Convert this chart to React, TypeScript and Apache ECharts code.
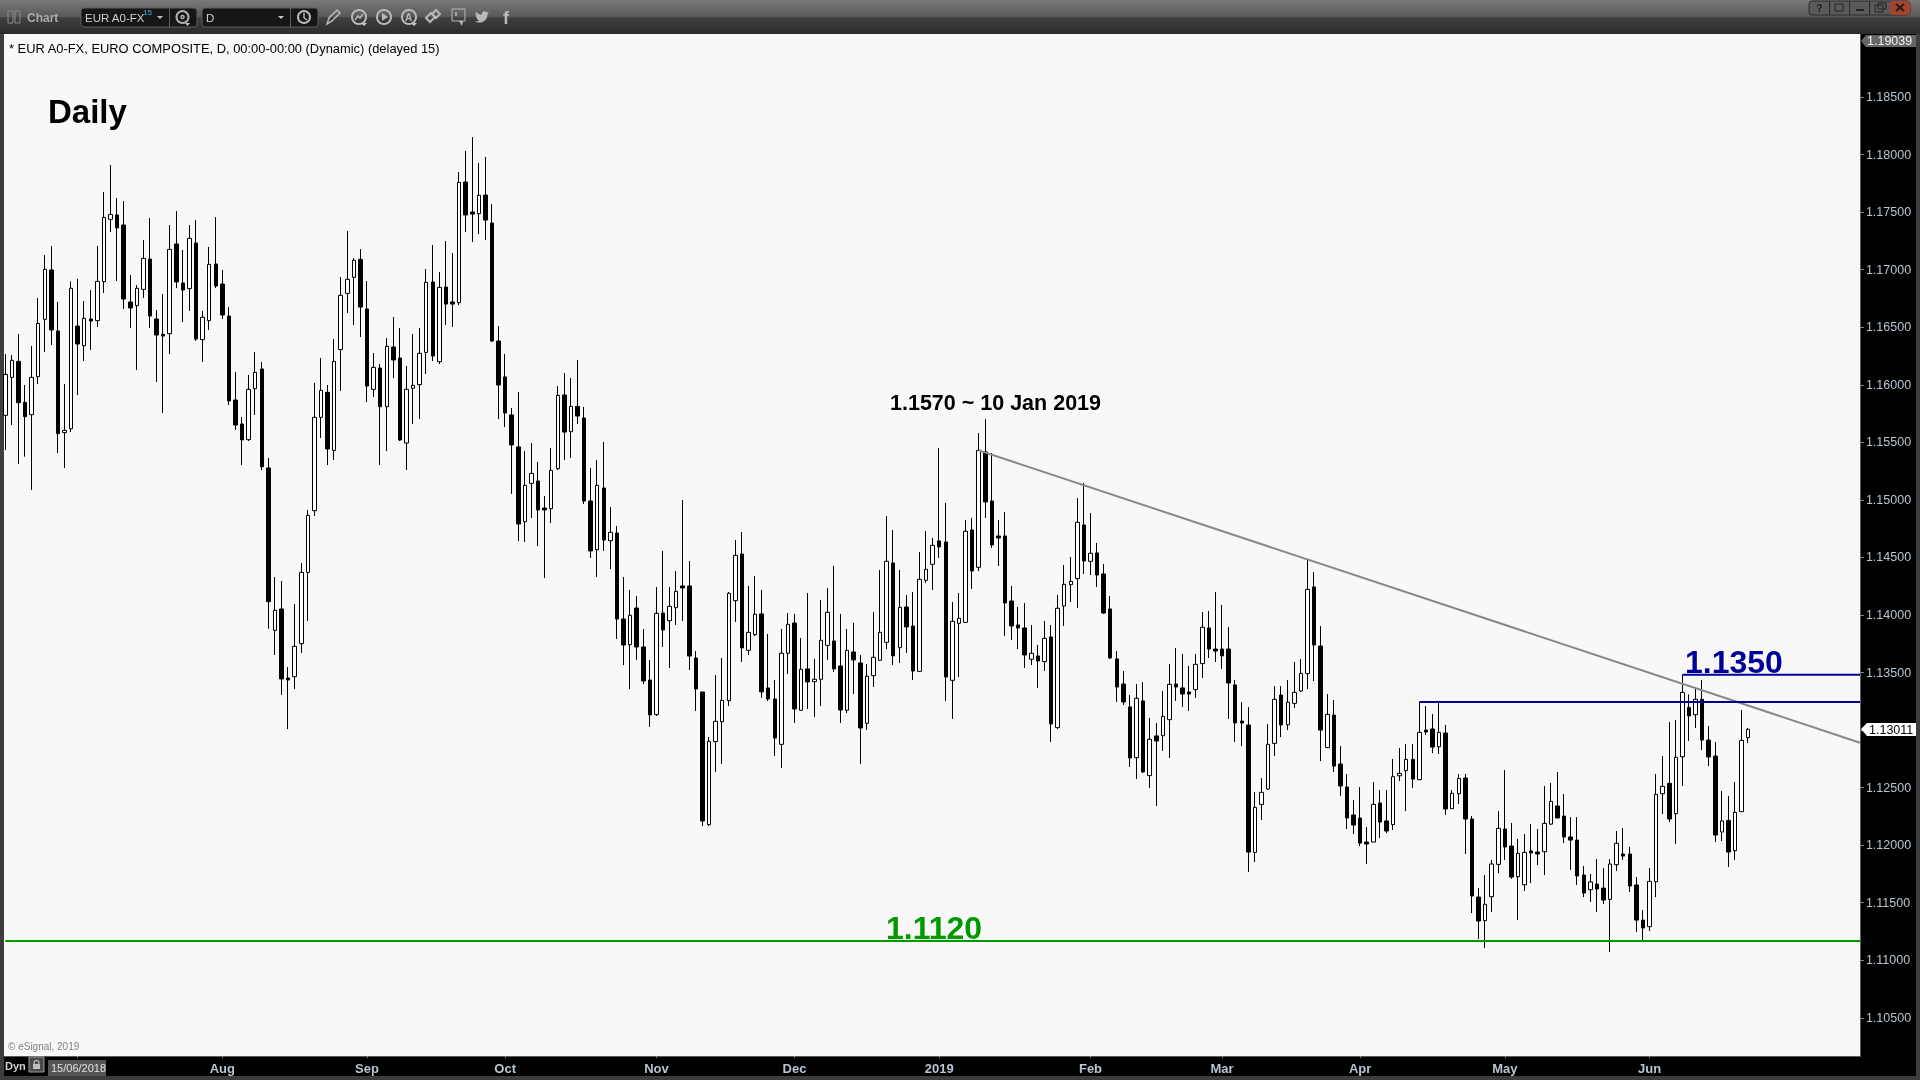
import React, { useEffect, useRef } from "react";
import * as echarts from "echarts";

const firstSession = Date.UTC(2018, 5, 15);
const slotCount = 283;
const tickIndices = [11, 33, 55, 76, 99, 120, 142, 165, 185, 206, 228, 250];
const tickLabels = ["", "Aug", "Sep", "Oct", "Nov", "Dec", "2019", "Feb", "Mar", "Apr", "May", "Jun"];
const priceTicks = { min: 1.1, max: 1.19, step: 0.005 };
const priceLabelsUnderTags = ["1.13000"];

const direction = (
  "WWBBWWWBBW" + "WBWBWWWBBB" + "WWBBBWBBWB" + "WWBBBBBWWB" + "BWBBWWWWWB" +
  "WWWWBBWBWB" + "BWWWWBWBBW" + "BBWBBBBBBW" + "WBBWWBWBBB" + "WBWBBWBBBW" +
  "BWWBBBBWWW" + "WWBWWBBBWW" + "BWBWWWBBWB" + "BWWWWBWBBW" + "WWBBWWWBWB" +
  "BBBBBBWBWB" + "WWWWBWBBBB" + "BBWBWBWWBB" + "BWWBBBBBBB" + "WWWWBWWWWB" +
  "BWBBBBBBWB" + "BWWWBWBBWB" + "WWBBBWWWBB" + "WWBBWWBBBB" + "BWBBWWBBBB" +
  "WWWBWWBWBB" + "BWBWWW"
).split("");

const highs = [
  1.16267,1.16258,1.16441,1.15998,1.16337,1.16754,1.17127,1.17205,1.16719,1.16006,
  1.16898,1.16919,1.16727,1.16823,1.17205,1.17674,1.17909,1.17622,1.17596,1.16953,
  1.16866,1.17257,1.17449,1.16649,1.16788,1.17388,1.17509,1.17171,1.17388,1.17431,
  1.16641,1.17197,1.17457,1.16997,1.16675,1.16111,1.15720,1.16085,1.16284,1.16198,
  1.15364,1.14330,1.14295,1.13548,1.14095,1.14451,1.14912,1.16015,1.16232,1.15998,
  1.16397,1.16936,1.17336,1.17101,1.17179,1.16901,1.16276,1.16180,1.16406,1.16588,
  1.16493,1.16163,1.16441,1.16493,1.17005,1.17214,1.16979,1.17249,1.17145,1.17848,
  1.18031,1.18152,1.17926,1.17979,1.17570,1.16510,1.16268,1.15798,1.15937,1.15424,
  1.15494,1.15329,1.15033,1.15450,1.15989,1.16102,1.16059,1.16215,1.15807,1.15277,
  1.15346,1.15503,1.14938,1.14773,1.14330,1.14217,1.14165,1.13878,1.13609,1.14243,
  1.14556,1.14243,1.14382,1.14999,1.14469,1.13687,1.13331,1.12940,1.13478,1.13626,
  1.14199,1.14651,1.14721,1.14252,1.14339,1.14217,1.13835,1.13435,1.13878,1.14017,
  1.14009,1.13800,1.14191,1.13618,1.14130,1.14234,1.14426,1.14009,1.13878,1.13930,
  1.13652,1.13574,1.14026,1.14391,1.14860,1.14738,1.14391,1.14174,1.14200,1.14547,
  1.14730,1.14669,1.15451,1.14973,1.14113,1.14191,1.14825,1.14843,1.15581,1.15700,
  1.15407,1.14825,1.14895,1.14252,1.14069,1.14104,1.13913,1.13739,1.13948,1.13913,
  1.14174,1.14434,1.14504,1.15016,1.15147,1.14886,1.14625,1.14443,1.14165,1.13687,
  1.13513,1.13305,1.13400,1.13418,1.13105,1.13062,1.13340,1.13574,1.13713,1.13661,
  1.13557,1.13661,1.14026,1.14035,1.14200,1.14087,1.13896,1.13435,1.13243,1.13200,
  1.12462,1.12583,1.13052,1.13382,1.13382,1.13435,1.13591,1.13617,1.14486,1.14373,
  1.13904,1.13313,1.13261,1.12861,1.12618,1.12392,1.12505,1.12157,1.12548,1.12479,
  1.12479,1.12748,1.12844,1.12879,1.12879,1.13243,1.13209,1.13139,1.13243,1.13044,
  1.12479,1.12618,1.12618,1.12253,1.11627,1.11740,1.11871,1.12296,1.12653,1.12192,
  1.12053,1.12097,1.12183,1.12140,1.12514,1.12540,1.12635,1.12444,1.12244,1.12244,
  1.11819,1.11749,1.11879,1.11801,1.11879,1.12123,1.12149,1.11984,1.11723,1.11436,
  1.11801,1.12618,1.12774,1.13070,1.13087,1.13478,1.13310,1.13374,1.13435,1.13035,
  1.12896,1.12470,1.12427,1.12548,1.13174,1.13018,
];

const bodyTops = [
  1.16090,1.16212,1.16203,1.15847,1.16064,1.16533,1.17003,1.16997,1.16467,1.15604,
  1.16838,1.16510,1.16577,1.16571,1.16898,1.17454,1.17480,1.17475,1.17388,1.16719,
  1.16838,1.17098,1.17092,1.16571,1.16438,1.17176,1.17223,1.16884,1.17272,1.17231,
  1.16586,1.17046,1.17049,1.16875,1.16597,1.15867,1.15659,1.15960,1.16108,1.16137,
  1.15277,1.14040,1.14052,1.13452,1.13727,1.14370,1.14865,1.15717,1.15951,1.15934,
  1.16203,1.16777,1.16916,1.17081,1.17089,1.16658,1.16151,1.16145,1.16334,1.16328,
  1.16232,1.15960,1.15995,1.16273,1.16890,1.16893,1.16846,1.16849,1.16719,1.17758,
  1.17761,1.17501,1.17646,1.17648,1.17405,1.16380,1.16068,1.15738,1.15460,1.15126,
  1.15230,1.15164,1.14929,1.15256,1.15908,1.15911,1.15812,1.15812,1.15711,1.14990,
  1.15126,1.15103,1.14718,1.14712,1.13965,1.13997,1.14060,1.13722,1.13435,1.14014,
  1.14017,1.14075,1.14205,1.14252,1.14252,1.13626,1.13331,1.12902,1.13076,1.13258,
  1.14188,1.14518,1.14530,1.13849,1.14006,1.14009,1.13366,1.13270,1.13667,1.13919,
  1.13930,1.13528,1.13531,1.13441,1.13780,1.14023,1.13774,1.13557,1.13693,1.13678,
  1.13583,1.13467,1.13632,1.13849,1.14466,1.14452,1.14066,1.14069,1.13904,1.14310,
  1.14397,1.14605,1.14643,1.14634,1.13945,1.13971,1.14727,1.14738,1.15430,1.15416,
  1.14990,1.14686,1.14686,1.14121,1.13913,1.13887,1.13667,1.13644,1.13797,1.13809,
  1.14058,1.14266,1.14292,1.14805,1.14782,1.14536,1.14539,1.14356,1.14052,1.13618,
  1.13400,1.13201,1.13276,1.13253,1.12920,1.12949,1.13119,1.13397,1.13400,1.13366,
  1.13331,1.13571,1.13893,1.13887,1.13704,1.13704,1.13704,1.13392,1.13078,1.13044,
  1.12328,1.12459,1.12876,1.13267,1.13304,1.13241,1.13327,1.13492,1.14222,1.14243,
  1.13730,1.13136,1.13130,1.12705,1.12505,1.12262,1.12236,1.12027,1.12354,1.12366,
  1.12210,1.12595,1.12624,1.12745,1.12745,1.12980,1.13000,1.13009,1.12980,1.12974,
  1.12450,1.12580,1.12583,1.12227,1.11549,1.11486,1.11836,1.12146,1.12140,1.11992,
  1.11929,1.11937,1.11949,1.11940,1.12189,1.12380,1.12340,1.12253,1.12071,1.12044,
  1.11740,1.11680,1.11662,1.11627,1.11836,1.12016,1.11923,1.11923,1.11654,1.11349,
  1.11685,1.12441,1.12511,1.12537,1.12763,1.13327,1.13197,1.13267,1.13267,1.12913,
  1.12774,1.12210,1.12215,1.12285,1.12910,1.13006,
];

const bodyBottoms = [
  1.15734,1.16064,1.15844,1.15723,1.15740,1.16070,1.16568,1.16476,1.15575,1.15584,
  1.15618,1.16354,1.16339,1.16554,1.16557,1.16895,1.17437,1.17362,1.16745,1.16667,
  1.16687,1.16829,1.16597,1.16432,1.16423,1.16444,1.16893,1.16823,1.16835,1.16397,
  1.16392,1.16557,1.16858,1.16606,1.15859,1.15650,1.15520,1.15523,1.15966,1.15288,
  1.14115,1.13866,1.13444,1.13435,1.13464,1.13751,1.14370,1.14906,1.15717,1.15442,
  1.15430,1.16305,1.16794,1.16933,1.16675,1.15989,1.15960,1.15809,1.15809,1.16215,
  1.15520,1.15494,1.15969,1.16001,1.16281,1.16250,1.16200,1.16701,1.16701,1.16713,
  1.17475,1.17483,1.17486,1.17431,1.16380,1.15998,1.15755,1.15477,1.14790,1.14810,
  1.15143,1.14912,1.14912,1.14923,1.15271,1.15589,1.15592,1.15728,1.14990,1.14556,
  1.14567,1.14651,1.14645,1.13965,1.13739,1.13742,1.13722,1.13426,1.13131,1.13134,
  1.13869,1.13950,1.14063,1.14234,1.13643,1.13357,1.12210,1.12178,1.12899,1.13073,
  1.13255,1.14124,1.13713,1.13693,1.13829,1.13331,1.13270,1.12931,1.12876,1.13667,
  1.13183,1.13172,1.13418,1.13421,1.13441,1.13736,1.13531,1.13174,1.13172,1.13609,
  1.13018,1.13059,1.13473,1.13606,1.13762,1.13644,1.13716,1.13896,1.13513,1.13510,
  1.14301,1.14440,1.14591,1.13461,1.13432,1.13927,1.13936,1.14382,1.14414,1.14982,
  1.14608,1.14669,1.14104,1.13904,1.13887,1.13652,1.13615,1.13600,1.13594,1.13053,
  1.13021,1.14078,1.14263,1.14316,1.14469,1.14466,1.14347,1.14017,1.13626,1.13374,
  1.13244,1.12757,1.12760,1.12636,1.12604,1.12905,1.12951,1.13090,1.13374,1.13313,
  1.13313,1.13351,1.13577,1.13704,1.13687,1.13644,1.13409,1.13062,1.13061,1.11940,
  1.11937,1.12354,1.12488,1.12884,1.13044,1.13046,1.13232,1.13339,1.13490,1.13739,
  1.13000,1.12847,1.12687,1.12514,1.12236,1.12175,1.12018,1.12010,1.12027,1.12201,
  1.12123,1.12178,1.12603,1.12647,1.12574,1.12569,1.12983,1.12852,1.12855,1.12314,
  1.12317,1.12447,1.12227,1.11558,1.11341,1.11344,1.11552,1.11833,1.11984,1.11723,
  1.11726,1.11656,1.11932,1.11923,1.11943,1.12183,1.12236,1.12071,1.12044,1.11732,
  1.11584,1.11613,1.11619,1.11523,1.11529,1.11830,1.11905,1.11645,1.11349,1.11280,
  1.11292,1.11682,1.12447,1.12227,1.12273,1.12768,1.13122,1.13133,1.12913,1.12766,
  1.12088,1.12114,1.11940,1.11952,1.12291,1.12934,
];

const lows = [
  1.15433,1.15650,1.15311,1.15375,1.15086,1.16006,1.16284,1.16345,1.15407,1.15277,
  1.15589,1.15911,1.16206,1.16302,1.16502,1.16797,1.17327,1.16901,1.16658,1.16493,
  1.16128,1.16754,1.16493,1.16024,1.15754,1.16267,1.16840,1.16545,1.16641,1.16380,
  1.16198,1.16476,1.16840,1.16571,1.15824,1.15607,1.15303,1.15511,1.15737,1.15259,
  1.13881,1.13652,1.13305,1.13009,1.13357,1.13669,1.13947,1.14860,1.15537,1.15303,
  1.15346,1.15946,1.16623,1.16519,1.16415,1.15850,1.15893,1.15303,1.15424,1.16058,
  1.15511,1.15259,1.15659,1.15702,1.16093,1.16206,1.16180,1.16519,1.16502,1.16693,
  1.17327,1.17240,1.17310,1.17257,1.16371,1.15702,1.15633,1.15051,1.14642,1.14634,
  1.14842,1.14599,1.14321,1.14799,1.15259,1.15346,1.15364,1.15659,1.14964,1.14495,
  1.14330,1.14556,1.14399,1.13791,1.13565,1.13357,1.13609,1.13400,1.13027,1.13122,
  1.13722,1.13539,1.13913,1.13947,1.13522,1.13165,1.12166,1.12166,1.12636,1.12705,
  1.13209,1.13939,1.13592,1.13652,1.13817,1.13279,1.13253,1.12775,1.12671,1.13487,
  1.13062,1.13169,1.13183,1.13114,1.13209,1.13609,1.13505,1.13062,1.13148,1.13313,
  1.12705,1.13001,1.13374,1.13600,1.13704,1.13565,1.13583,1.13670,1.13435,1.13505,
  1.14278,1.14217,1.14495,1.13253,1.13096,1.13461,1.13930,1.14226,1.14382,1.14843,
  1.14582,1.14426,1.13817,1.13783,1.13704,1.13539,1.13565,1.13366,1.13513,1.12896,
  1.13009,1.13904,1.14113,1.14061,1.14356,1.14347,1.14243,1.14009,1.13618,1.13244,
  1.13218,1.12679,1.12575,1.12627,1.12497,1.12340,1.12818,1.12757,1.13253,1.13201,
  1.13166,1.13279,1.13452,1.13626,1.13592,1.13531,1.13096,1.12896,1.12861,1.11766,
  1.11853,1.12218,1.12479,1.12774,1.12939,1.13000,1.13191,1.13330,1.13356,1.13426,
  1.12731,1.12844,1.12635,1.12427,1.12140,1.12097,1.11992,1.11836,1.12027,1.12062,
  1.12105,1.12131,1.12557,1.12296,1.12496,1.12569,1.12957,1.12800,1.12792,1.12262,
  1.12317,1.12357,1.11923,1.11410,1.11184,1.11106,1.11419,1.11758,1.11871,1.11706,
  1.11349,1.11601,1.11671,1.11827,1.11740,1.12175,1.12236,1.12018,1.11784,1.11654,
  1.11549,1.11506,1.11419,1.11488,1.11071,1.11775,1.11871,1.11593,1.11245,1.11158,
  1.11254,1.11549,1.12270,1.12201,1.12010,1.12514,1.12905,1.13018,1.12826,1.12687,
  1.12027,1.12036,1.11810,1.11871,1.12291,1.12887,
];

const supportLine = [[0, 1.11167], [282, 1.11167]];
const resistanceLow = [[215, 1.13244], [282, 1.13244]];
const resistanceHigh = [[255, 1.13481], [282, 1.13481]];
const trendLine = [[148, 1.1543], [282, 1.1289]];

const FONT = '"Liberation Sans", Arial, sans-serif';
const CHROME = "#3d3d3d";
const GLYPH = "#b9b9b9";

const twitterPath =
  "M23.954 4.569c-.885.389-1.83.654-2.825.775 1.014-.611 1.794-1.574 2.163-2.723-.951.555-2.005.959-3.127 1.184-.896-.959-2.173-1.559-3.591-1.559-2.717 0-4.92 2.203-4.92 4.917 0 .39.045.765.127 1.124C7.691 8.094 4.066 6.13 1.64 3.161c-.427.722-.666 1.561-.666 2.475 0 1.71.87 3.213 2.188 4.096-.807-.026-1.566-.248-2.228-.616v.061c0 2.385 1.693 4.374 3.946 4.827-.413.111-.849.171-1.296.171-.314 0-.615-.03-.916-.086.631 1.953 2.445 3.377 4.604 3.417-1.68 1.319-3.809 2.105-6.102 2.105-.39 0-.779-.023-1.17-.067 2.189 1.394 4.768 2.209 7.557 2.209 9.054 0 13.999-7.496 13.999-13.986 0-.209 0-.42-.015-.63.961-.689 1.8-1.56 2.46-2.548l-.047-.02z";
echarts.graphic.registerShape("twitterBird", echarts.graphic.extendPath(twitterPath, {}));

const box = (x: number, y: number, w: number, h: number, fill: any, z = -10, extra: any = {}) => ({
  type: "rect", silent: true, z, shape: { x, y, width: w, height: h, r: extra.r || 0 },
  style: { fill, stroke: extra.stroke, lineWidth: extra.stroke ? 1 : 0 },
});
const label = (text: string, x: number, y: number, font: string, fill: string, z = 50) => ({
  type: "text", silent: true, z, x, y,
  style: { text, fill, font, align: "left", verticalAlign: "middle" },
});
const ringAt = (cx: number, cy: number, r: number, stroke = GLYPH, lineWidth = 2) => ({
  type: "circle", silent: true, z: 5, shape: { cx, cy, r }, style: { fill: "none", stroke, lineWidth },
});
const seg = (x1: number, y1: number, x2: number, y2: number, stroke = GLYPH, lineWidth = 1.5, z = 5) => ({
  type: "line", silent: true, z, shape: { x1, y1, x2, y2 }, style: { stroke, lineWidth },
});
const poly = (points: number[][], fill: string, stroke?: string, z = 5, lineWidth = 1) => ({
  type: "polygon", silent: true, z, shape: { points }, style: { fill, stroke, lineWidth },
});

const chromeElements: any[] = [
  box(0, 0, 1920, 1080, CHROME, -20),
  box(4, 34, 1856, 1022, "#f8f8f8", -15),
  {
    type: "rect", silent: true, z: -10, shape: { x: 0, y: 0, width: 1920, height: 34 },
    style: {
      fill: new echarts.graphic.LinearGradient(0, 0, 0, 1, [
        { offset: 0, color: "#7a7a7a" },
        { offset: 0.5, color: "#585858" },
        { offset: 0.52, color: "#404040" },
        { offset: 1, color: "#2b2b2b" },
      ]),
    },
  },
  box(1860, 34, 56, 1042, "#000000", -10),
  box(1860, 34, 1, 1022, "#5a5a5a", -9),
  box(4, 1056, 1912, 20, "#000000", -10),
  box(4, 1056, 1857, 1, "#5a5a5a", -9),
  box(1861, 1060, 55, 16, "#000000", 50),
  // toolbar left
  box(8, 11, 5, 12, "none", 5, { stroke: "#8a8a8a" }),
  box(15, 11, 5, 12, "none", 5, { stroke: "#8a8a8a" }),
  label("Chart", 27, 18, `bold 12px ${FONT}`, "#ababab"),
  box(81, 8, 116, 19, "#161616", 4, { stroke: "#5c5c5c", r: 3 }),
  seg(169.5, 8, 169.5, 27, "#5c5c5c", 1),
  label("EUR A0-FX", 85, 18, `11.5px ${FONT}`, "#cfcfcf"),
  label("15", 143, 12, `8px ${FONT}`, "#35b6f0"),
  poly([[157, 16], [163, 16], [160, 19]], "#c8c8c8"),
  ringAt(182.5, 17, 6, "#b0b0b0", 2),
  ringAt(182.5, 17, 1.5, "#b0b0b0", 1.5),
  poly([[185, 23], [190, 23], [187.5, 26]], "#c8c8c8"),
  box(202, 8, 116, 19, "#161616", 4, { stroke: "#5c5c5c", r: 3 }),
  seg(290.5, 8, 290.5, 27, "#5c5c5c", 1),
  label("D", 206, 18, `11.5px ${FONT}`, "#cfcfcf"),
  poly([[278, 16], [284, 16], [281, 19]], "#c8c8c8"),
  ringAt(304, 17, 6),
  seg(304, 13, 304, 18),
  seg(304, 18, 307, 20),
  // pencil
  poly([[327, 24], [329, 18], [337, 10], [340, 13], [332, 21]], "none", GLYPH, 5, 1.5),
  // analysis icons
  ringAt(359, 17, 7),
  { type: "polyline", silent: true, z: 6, shape: { points: [[355, 20], [358, 16], [360, 18], [363, 14]] }, style: { fill: "none", stroke: GLYPH, lineWidth: 1.5 } },
  poly([[361, 23], [367, 23], [364, 26]], "#c8c8c8"),
  ringAt(384, 17, 7),
  poly([[382, 13], [382, 21], [388, 17]], GLYPH),
  ringAt(409, 17, 7),
  label("A", 405, 17.5, `bold 10px ${FONT}`, GLYPH),
  poly([[411, 23], [417, 23], [414, 26]], "#c8c8c8"),
  // link icon
  poly([[426, 18], [431, 13], [435, 17], [430, 22]], "none", GLYPH, 5, 2),
  poly([[432, 14], [436, 10], [440, 14], [436, 18]], "none", GLYPH, 5, 2),
  // speech bubble
  box(452, 9, 13, 12, "none", 5, { stroke: GLYPH }),
  poly([[459, 21], [463, 21], [462, 26]], GLYPH),
  seg(456, 12, 456, 16, GLYPH, 1.5),
  { type: "twitterBird", silent: true, z: 5, x: 475, y: 10, scaleX: 0.58, scaleY: 0.58, style: { fill: GLYPH } },
  label("f", 503, 18, `bold 18px ${FONT}`, GLYPH),
  // window buttons
  box(1809, 1, 101, 14, "#5a5a5a", 4, { stroke: "#2b2b2b", r: 3 }),
  seg(1829.5, 1, 1829.5, 15, "#2b2b2b", 1),
  seg(1849.5, 1, 1849.5, 15, "#2b2b2b", 1),
  seg(1869.5, 1, 1869.5, 15, "#2b2b2b", 1),
  box(1890, 1, 20, 14, "#a4432f", 5, { r: 3 }),
  label("?", 1816, 8, `bold 11px ${FONT}`, "#222222"),
  box(1835, 4, 8, 7, "none", 6, { stroke: "#222222" }),
  seg(1856, 10, 1864, 10, "#222222", 2),
  box(1875, 5, 8, 7, "none", 6, { stroke: "#222222" }),
  box(1878, 3, 8, 6, "none", 6, { stroke: "#222222" }),
  seg(1896, 4, 1904, 11, "#2a1a14", 2, 6),
  seg(1904, 4, 1896, 11, "#2a1a14", 2, 6),
  // chart notes
  label("* EUR A0-FX, EURO COMPOSITE, D, 00:00-00:00 (Dynamic) (delayed 15)", 9, 48, `12.9px ${FONT}`, "#000000"),
  label("Daily", 48, 111, `bold 33px ${FONT}`, "#000000"),
  label("1.1570 ~ 10 Jan 2019", 890, 403, `bold 21.5px ${FONT}`, "#000000"),
  label("1.1120", 886, 928, `bold 32px ${FONT}`, "#009900"),
  label("1.1350", 1685, 662, `bold 32px ${FONT}`, "#000099"),
  label("\u00a9 eSignal, 2019", 8, 1046.5, `10px ${FONT}`, "#808080"),
  // bottom bar
  label("Dyn", 5, 1066, `bold 11px ${FONT}`, "#d0d0d0"),
  box(29, 1057, 15, 15, "#4a4a4a", 5, { stroke: "#9a9a9a" }),
  box(33, 1064, 7, 5, "#c0c0c0", 6),
  ringAt(36.5, 1063, 2.5, "#c0c0c0", 1.2),
  box(48, 1060, 58, 16, "#555555", 5),
  label("15/06/2018", 51, 1068, `11px ${FONT}`, "#e0e0e0"),
  // price tags
  poly([[1861, 41], [1866, 35], [1916, 35], [1916, 47], [1866, 47]], "#666666", undefined, 40),
  label("1.19039", 1867, 41, `12.5px ${FONT}`, "#f2f2f2"),
  poly([[1861, 729], [1867, 723], [1916, 723], [1916, 736], [1867, 736]], "#ffffff", undefined, 40),
  label("1.13011", 1869, 729.5, `12.5px ${FONT}`, "#000000"),
];

function sessionLabels(): string[] {
  const out: string[] = [];
  let t = firstSession;
  while (out.length < slotCount) {
    const d = new Date(t);
    const wd = d.getUTCDay();
    if (wd !== 0 && wd !== 6) {
      out.push(`${String(d.getUTCDate()).padStart(2, "0")}/${String(d.getUTCMonth() + 1).padStart(2, "0")}/${d.getUTCFullYear()}`);
    }
    t += 86400000;
  }
  return out;
}

export default function App() {
  const ref = useRef<HTMLDivElement>(null);
  useEffect(() => {
    const chart = echarts.init(ref.current!, undefined, { renderer: "svg" });
    const candles = highs.map((h, i) => {
      const up = direction[i] === "W";
      return [up ? bodyBottoms[i] : bodyTops[i], up ? bodyTops[i] : bodyBottoms[i], lows[i], h];
    });
    const overlay = (data: number[][], color: string) => ({
      type: "line", data, showSymbol: false, symbol: "none", silent: true, z: 3,
      lineStyle: { color, width: 2 }, itemStyle: { color }, animation: false,
    });
    chart.setOption({
      animation: false,
      backgroundColor: "transparent",
      grid: { left: 2, top: 39.45, width: 1861.3, height: 1035.9, containLabel: false },
      xAxis: {
        type: "category",
        data: sessionLabels(),
        boundaryGap: true,
        offset: -19.35,
        axisLine: { show: false },
        axisTick: {
          show: true, alignWithLabel: true, length: 2, lineStyle: { color: "#8a8a8a" },
          interval: (i: number) => tickIndices.includes(i),
        },
        axisLabel: {
          show: true, margin: 5.5, color: "#b8c4d0", fontFamily: "Liberation Sans", fontWeight: "bold", fontSize: 13,
          interval: (i: number) => tickIndices.includes(i),
          formatter: (_: string, i: number) => tickLabels[tickIndices.indexOf(i)] ?? "",
        },
        splitLine: { show: false },
      },
      yAxis: {
        type: "value",
        position: "right",
        offset: -3.4,
        min: priceTicks.min,
        max: priceTicks.max,
        interval: priceTicks.step,
        axisLine: { show: false },
        axisTick: { show: true, length: 4, lineStyle: { color: "#8a8a8a" } },
        axisLabel: {
          show: true, margin: 6, color: "#b8c4d0", fontFamily: "Liberation Sans", fontSize: 12.5,
          showMinLabel: false, showMaxLabel: false,
          formatter: (v: number) => {
            const s = v.toFixed(5);
            return priceLabelsUnderTags.includes(s) ? "" : s;
          },
        },
        splitLine: { show: false },
      },
      series: [
        {
          type: "candlestick",
          data: candles,
          barWidth: 4,
          itemStyle: { color: "#ffffff", color0: "#000000", borderColor: "#000000", borderColor0: "#000000", borderWidth: 1 },
          silent: true,
        },
        overlay(trendLine, "#888888"),
        overlay(resistanceLow, "#000099"),
        overlay(resistanceHigh, "#000099"),
        overlay(supportLine, "#009900"),
      ],
      graphic: { elements: chromeElements },
    });
    return () => chart.dispose();
  }, []);
  return <div ref={ref} style={{ position: "fixed", left: 0, top: 0, width: 1920, height: 1080, overflow: "hidden" }} />;
}
